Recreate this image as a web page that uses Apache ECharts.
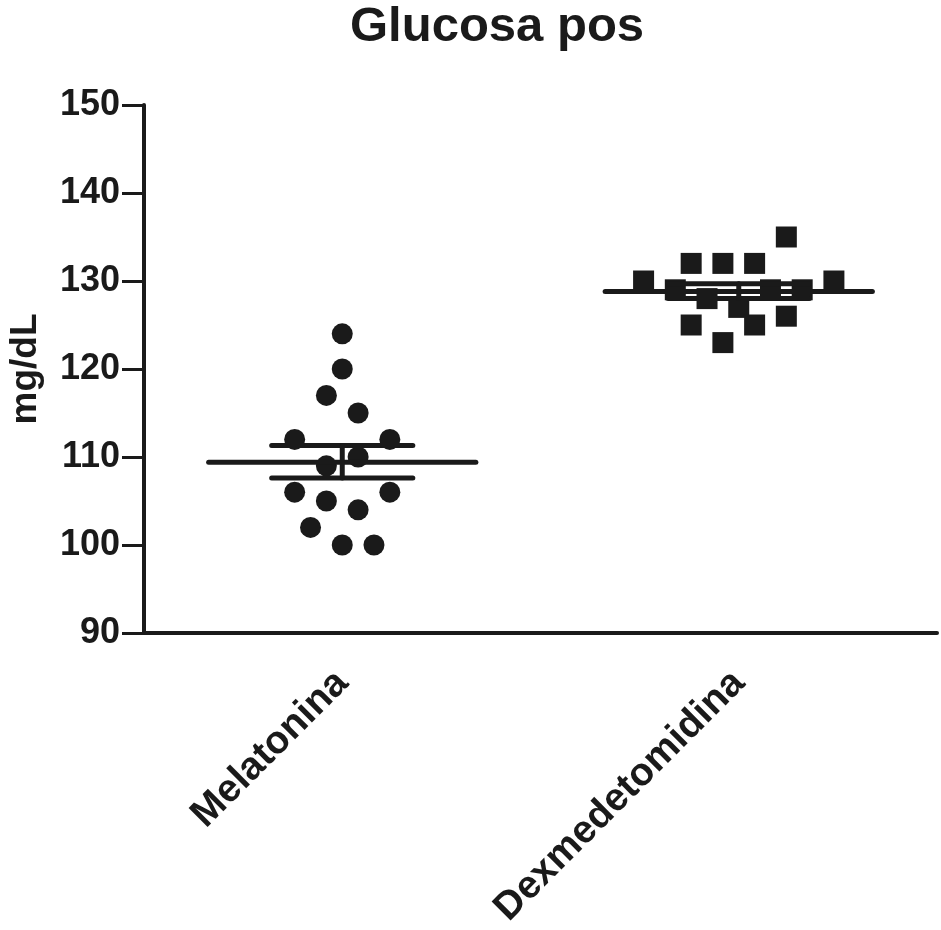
<!DOCTYPE html>
<html>
<head>
<meta charset="utf-8">
<script src="https://cdn.jsdelivr.net/npm/echarts@6/dist/echarts.min.js"></script>
<style>
  html, body { margin: 0; padding: 0; background: #fff; }
  #main { width: 941px; height: 930px; }
</style>
</head>
<body>
<div id="main"></div>
<script>
// groups on the x axis
const categories = ['Melatonina', 'Dexmedetomidina'];

// individual values (mg/dL) and their horizontal jitter slot inside the group
const melValues = [124, 120, 117, 115, 112, 112, 110, 109, 106, 106, 105, 104, 102, 100, 100];
const melSlots  = [0, 0, -0.5, 0.5, -1.5, 1.5, 0.5, -0.5, -1.5, 1.5, -0.5, 0.5, -1, 0, 1];
const dexValues = [135, 132, 132, 132, 130, 130, 129, 129, 129, 128, 127, 126, 125, 125, 123];
const dexSlots  = [1.5, -1.5, -0.5, 0.5, -3, 3, -2, 1, 2, -1, 0, 1.5, -1.5, 0.5, -0.5];

// mean and SEM limits
const means   = [109.4, 128.8];
const semHigh = [111.3, 129.7];
const semLow  = [107.6, 128.0];

// y axis
const yMin = 90, yMax = 150, yStep = 10;

const slotWidth = 0.08;   // in group units
const meanHalf = 0.337;
const capHalf = 0.178;
const ink = '#1a1a1a';
const font = '"Liberation Sans", Arial, Helvetica, sans-serif';

function points(values, slots, groupIndex) {
    let out = [];
    for (let i = 0; i < values.length; i++) {
        out.push([groupIndex + 0.5 + slots[i] * slotWidth, values[i]]);
    }
    return out;
}

let summary = [];
for (let i = 0; i < categories.length; i++) {
    summary.push([i + 0.5, means[i], semHigh[i], semLow[i]]);
}

const chart = echarts.init(document.getElementById('main'));

chart.setOption({
    backgroundColor: '#fff',
    animation: false,
    title: {
        text: 'Glucosa pos',
        left: 345,
        top: -2,
        textStyle: { fontFamily: font, fontSize: 49, fontWeight: 'bold', color: ink }
    },
    grid: { left: 144, right: 4, top: 105, bottom: 297, containLabel: false, outerBoundsMode: 'none' },
    xAxis: [
        {
            type: 'category',
            data: categories,
            boundaryGap: true,
            axisLine: { lineStyle: { color: ink, width: 4 } },
            axisTick: { alignWithLabel: true, length: 15, lineStyle: { color: ink, width: 3 } },
            axisLabel: {
                rotate: 45,
                margin: 44,
                color: ink,
                fontFamily: font,
                fontSize: 39,
                fontWeight: 'bold'
            },
            splitLine: { show: false }
        },
        {
            type: 'value',
            min: 0,
            max: 2,
            show: false
        }
    ],
    yAxis: {
        type: 'value',
        min: yMin,
        max: yMax,
        interval: yStep,
        name: 'mg/dL',
        nameLocation: 'middle',
        nameGap: 100,
        nameRotate: 90,
        nameTextStyle: { color: ink, fontFamily: font, fontSize: 37, fontWeight: 'bold' },
        axisLine: { show: true, lineStyle: { color: ink, width: 4 } },
        axisTick: { show: true, length: 22, lineStyle: { color: ink, width: 3 } },
        axisLabel: { margin: 24, color: ink, fontFamily: font, fontSize: 36, fontWeight: 'bold' },
        splitLine: { show: false }
    },
    series: [
        {
            name: categories[0],
            type: 'scatter',
            xAxisIndex: 1,
            symbol: 'circle',
            symbolSize: 21,
            itemStyle: { color: ink, opacity: 1 },
            data: points(melValues, melSlots, 0)
        },
        {
            name: categories[1],
            type: 'scatter',
            xAxisIndex: 1,
            symbol: 'rect',
            symbolSize: 21,
            itemStyle: { color: ink, opacity: 1 },
            data: points(dexValues, dexSlots, 1)
        },
        {
            name: 'mean_sem',
            type: 'custom',
            xAxisIndex: 1,
            z: 3,
            data: summary,
            renderItem: function (params, api) {
                let cx = api.value(0);
                let m = api.coord([cx, api.value(1)]);
                let hi = api.coord([cx, api.value(2)]);
                let lo = api.coord([cx, api.value(3)]);
                let mL = api.coord([cx - meanHalf, api.value(1)])[0];
                let mR = api.coord([cx + meanHalf, api.value(1)])[0];
                let cL = api.coord([cx - capHalf, api.value(1)])[0];
                let cR = api.coord([cx + capHalf, api.value(1)])[0];
                let st = { stroke: ink, lineWidth: 5, lineCap: 'round' };
                return {
                    type: 'group',
                    children: [
                        { type: 'line', shape: { x1: mL, y1: m[1], x2: mR, y2: m[1] }, style: st },
                        { type: 'line', shape: { x1: cL, y1: hi[1], x2: cR, y2: hi[1] }, style: st },
                        { type: 'line', shape: { x1: cL, y1: lo[1], x2: cR, y2: lo[1] }, style: st },
                        { type: 'line', shape: { x1: m[0], y1: hi[1], x2: m[0], y2: lo[1] }, style: st }
                    ]
                };
            }
        }
    ]
});
</script>
</body>
</html>
